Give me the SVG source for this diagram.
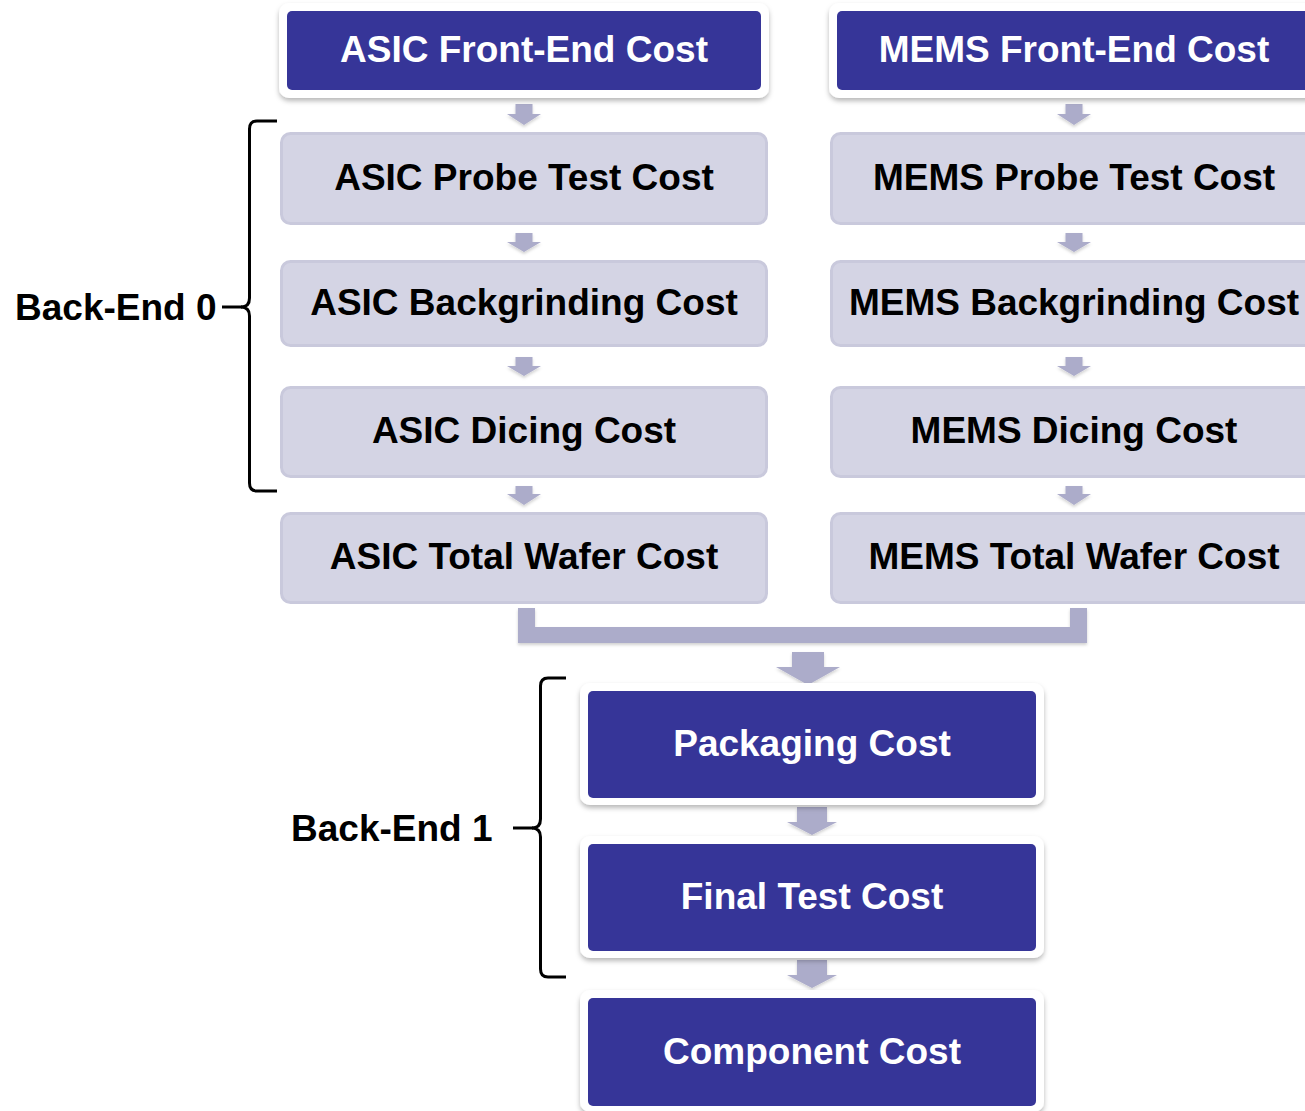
<svg xmlns="http://www.w3.org/2000/svg" width="1305" height="1111" viewBox="0 0 1305 1111">
  <defs>
    <filter id="shadow" x="-10%" y="-20%" width="120%" height="150%">
      <feDropShadow dx="0" dy="3" stdDeviation="2.5" flood-color="#000" flood-opacity="0.28"/>
    </filter>
    <filter id="softShadow" x="-10%" y="-20%" width="120%" height="150%">
      <feDropShadow dx="0" dy="2" stdDeviation="1.5" flood-color="#000" flood-opacity="0.18"/>
    </filter>
  </defs>
  <style>
    .frame { fill: #ffffff; filter: url(#shadow); }
    .blue { fill: #363598; }
    .gray { fill: #d4d4e4; stroke: #c9c9dc; stroke-width: 3; }
    .arrow { fill: #acacca; filter: url(#softShadow); }
    .wt { font-family: "Liberation Sans", Arial, sans-serif; font-weight: bold; font-size: 37px; fill: #ffffff; text-anchor: middle; }
    .bt { font-family: "Liberation Sans", Arial, sans-serif; font-weight: bold; font-size: 37px; fill: #000000; text-anchor: middle; }
    .lbl { font-family: "Liberation Sans", Arial, sans-serif; font-weight: bold; font-size: 37px; fill: #000000; }
    .brace { fill: none; stroke: #000000; stroke-width: 3; }
  </style>

  <!-- connectors -->
  <g id="connectors">
    <!-- ASIC column -->
    <path class="arrow" d="M515.5,104 H532.5 V114 H541 L524,125 L507,114 H515.5 Z"/>
    <path class="arrow" d="M515.5,233 H532.5 V242 H541 L524,252 L507,242 H515.5 Z"/>
    <path class="arrow" d="M515.5,357 H532.5 V366 H541 L524,376 L507,366 H515.5 Z"/>
    <path class="arrow" d="M515.5,486 H532.5 V494 H541 L524,505 L507,494 H515.5 Z"/>
    <!-- MEMS column -->
    <path class="arrow" d="M1065.5,104 H1082.5 V114 H1091 L1074,125 L1057,114 H1065.5 Z"/>
    <path class="arrow" d="M1065.5,233 H1082.5 V242 H1091 L1074,252 L1057,242 H1065.5 Z"/>
    <path class="arrow" d="M1065.5,357 H1082.5 V366 H1091 L1074,376 L1057,366 H1065.5 Z"/>
    <path class="arrow" d="M1065.5,486 H1082.5 V494 H1091 L1074,505 L1057,494 H1065.5 Z"/>
    <!-- merge of the two wafer costs -->
    <path class="arrow" d="M518,608 H535 V627 H1070 V608 H1087 V643 H518 Z"/>
    <path class="arrow" d="M792,652 H824 V667 H840 L808,685 L776,667 H792 Z"/>
    <!-- back-end 1 chain -->
    <path class="arrow" d="M797,807 H827 V822 H837 L812,835 L787,822 H797 Z"/>
    <path class="arrow" d="M797,960 H827 V975 H837 L812,988 L787,975 H797 Z"/>
  </g>

  <!-- ASIC column -->
  <g id="asic-front-end">
    <rect class="frame" x="279" y="3" width="490" height="95" rx="10"/>
    <rect class="blue" x="287" y="11" width="474" height="79" rx="5"/>
    <text class="wt" x="524" y="62">ASIC Front-End Cost</text>
  </g>
  <g id="asic-probe-test">
    <rect class="gray" x="281.5" y="133.5" width="485" height="90" rx="9"/>
    <text class="bt" x="524" y="190">ASIC Probe Test Cost</text>
  </g>
  <g id="asic-backgrinding">
    <rect class="gray" x="281.5" y="261.5" width="485" height="84" rx="9"/>
    <text class="bt" x="524" y="315">ASIC Backgrinding Cost</text>
  </g>
  <g id="asic-dicing">
    <rect class="gray" x="281.5" y="387.5" width="485" height="89" rx="9"/>
    <text class="bt" x="524" y="443">ASIC Dicing Cost</text>
  </g>
  <g id="asic-total-wafer">
    <rect class="gray" x="281.5" y="513.5" width="485" height="89" rx="9"/>
    <text class="bt" x="524" y="569">ASIC Total Wafer Cost</text>
  </g>

  <!-- MEMS column -->
  <g id="mems-front-end">
    <rect class="frame" x="829" y="3" width="490" height="95" rx="10"/>
    <rect class="blue" x="837" y="11" width="474" height="79" rx="5"/>
    <text class="wt" x="1074" y="62">MEMS Front-End Cost</text>
  </g>
  <g id="mems-probe-test">
    <rect class="gray" x="831.5" y="133.5" width="485" height="90" rx="9"/>
    <text class="bt" x="1074" y="190">MEMS Probe Test Cost</text>
  </g>
  <g id="mems-backgrinding">
    <rect class="gray" x="831.5" y="261.5" width="485" height="84" rx="9"/>
    <text class="bt" x="1074" y="315">MEMS Backgrinding Cost</text>
  </g>
  <g id="mems-dicing">
    <rect class="gray" x="831.5" y="387.5" width="485" height="89" rx="9"/>
    <text class="bt" x="1074" y="443">MEMS Dicing Cost</text>
  </g>
  <g id="mems-total-wafer">
    <rect class="gray" x="831.5" y="513.5" width="485" height="89" rx="9"/>
    <text class="bt" x="1074" y="569">MEMS Total Wafer Cost</text>
  </g>

  <!-- back-end 1 chain -->
  <g id="packaging">
    <rect class="frame" x="580" y="683" width="464" height="122" rx="10"/>
    <rect class="blue" x="588" y="691" width="448" height="107" rx="5"/>
    <text class="wt" x="812" y="756">Packaging Cost</text>
  </g>
  <g id="final-test">
    <rect class="frame" x="580" y="836" width="464" height="122" rx="10"/>
    <rect class="blue" x="588" y="844" width="448" height="107" rx="5"/>
    <text class="wt" x="812" y="909">Final Test Cost</text>
  </g>
  <g id="component">
    <rect class="frame" x="580" y="990" width="464" height="122" rx="10"/>
    <rect class="blue" x="588" y="998" width="448" height="108" rx="5"/>
    <text class="wt" x="812" y="1064">Component Cost</text>
  </g>

  <!-- stage braces -->
  <g id="back-end-0">
    <path class="brace" d="M277,121 H257 Q249.5,121 249.5,129 V298 Q249.5,307 241,307 Q249.5,307 249.5,316 V483 Q249.5,491 257,491 H277"/>
    <path class="brace" d="M222,307 H242"/>
    <text class="lbl" x="15" y="320">Back-End 0</text>
  </g>
  <g id="back-end-1">
    <path class="brace" d="M566,678 H548 Q540.5,678 540.5,686 V819 Q540.5,828 532,828 Q540.5,828 540.5,837 V969 Q540.5,977 548,977 H566"/>
    <path class="brace" d="M513,828 H533"/>
    <text class="lbl" x="291" y="841">Back-End 1</text>
  </g>
</svg>
